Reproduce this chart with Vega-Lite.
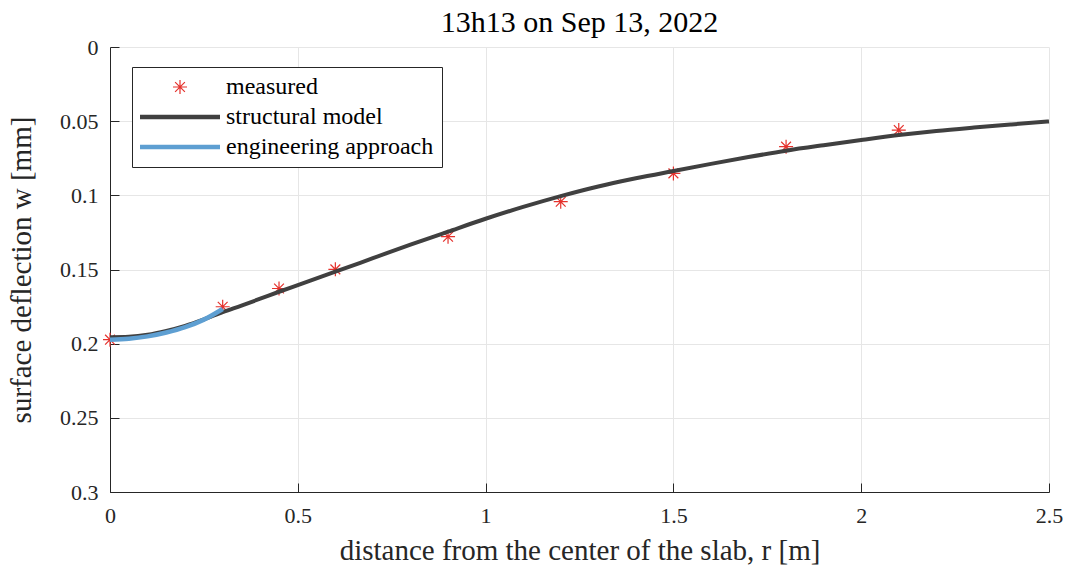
{
  "$schema": "https://vega.github.io/schema/vega-lite/v6.json",
  "width": 939,
  "height": 445,
  "autosize": {"type": "none"},
  "padding": {"left": 110, "top": 47, "right": 20, "bottom": 77},
  "background": "white",
  "title": {
    "text": "13h13 on Sep 13, 2022",
    "anchor": "middle",
    "offset": -2
  },
  "datasets": {
    "measured": [
      {"series": "measured", "r": 0.0, "w": 0.1973},
      {"series": "measured", "r": 0.3, "w": 0.1751},
      {"series": "measured", "r": 0.45, "w": 0.1628},
      {"series": "measured", "r": 0.6, "w": 0.1499},
      {"series": "measured", "r": 0.9, "w": 0.1279},
      {"series": "measured", "r": 1.2, "w": 0.1043},
      {"series": "measured", "r": 1.5, "w": 0.0852},
      {"series": "measured", "r": 1.8, "w": 0.0672},
      {"series": "measured", "r": 2.1, "w": 0.056}
    ],
    "structural": [
      {"series": "structural model", "r": 0.0, "w": 0.1956},
      {"series": "structural model", "r": 0.05, "w": 0.1953},
      {"series": "structural model", "r": 0.1, "w": 0.194},
      {"series": "structural model", "r": 0.15, "w": 0.1914},
      {"series": "structural model", "r": 0.2, "w": 0.188},
      {"series": "structural model", "r": 0.25, "w": 0.1836},
      {"series": "structural model", "r": 0.3, "w": 0.1787},
      {"series": "structural model", "r": 0.35, "w": 0.1743},
      {"series": "structural model", "r": 0.4, "w": 0.1697},
      {"series": "structural model", "r": 0.45, "w": 0.165},
      {"series": "structural model", "r": 0.5, "w": 0.1605},
      {"series": "structural model", "r": 0.6, "w": 0.1515},
      {"series": "structural model", "r": 0.7, "w": 0.1424},
      {"series": "structural model", "r": 0.8, "w": 0.1333},
      {"series": "structural model", "r": 0.9, "w": 0.1245},
      {"series": "structural model", "r": 1.0, "w": 0.1158},
      {"series": "structural model", "r": 1.1, "w": 0.1078},
      {"series": "structural model", "r": 1.2, "w": 0.1005},
      {"series": "structural model", "r": 1.3, "w": 0.094},
      {"series": "structural model", "r": 1.4, "w": 0.0885},
      {"series": "structural model", "r": 1.5, "w": 0.0836},
      {"series": "structural model", "r": 1.6, "w": 0.0788},
      {"series": "structural model", "r": 1.7, "w": 0.0742},
      {"series": "structural model", "r": 1.8, "w": 0.0699},
      {"series": "structural model", "r": 1.9, "w": 0.0662},
      {"series": "structural model", "r": 2.0, "w": 0.0627},
      {"series": "structural model", "r": 2.1, "w": 0.0594},
      {"series": "structural model", "r": 2.2, "w": 0.0566},
      {"series": "structural model", "r": 2.3, "w": 0.0543},
      {"series": "structural model", "r": 2.4, "w": 0.0522},
      {"series": "structural model", "r": 2.5, "w": 0.0502}
    ],
    "engineering": [
      {"series": "engineering approach", "r": 0.0, "w": 0.1974},
      {"series": "engineering approach", "r": 0.05, "w": 0.1967},
      {"series": "engineering approach", "r": 0.1, "w": 0.1951},
      {"series": "engineering approach", "r": 0.15, "w": 0.1925},
      {"series": "engineering approach", "r": 0.2, "w": 0.1889},
      {"series": "engineering approach", "r": 0.25, "w": 0.1838},
      {"series": "engineering approach", "r": 0.3, "w": 0.1766}
    ]
  },
  "config": {
    "font": "Liberation Serif",
    "view": {"stroke": null},
    "title": {
      "font": "Liberation Serif",
      "fontSize": 30,
      "fontWeight": "normal",
      "color": "#000000"
    },
    "axis": {
      "labelFont": "Liberation Serif",
      "labelFontSize": 22,
      "labelColor": "#262626",
      "labelFlush": false,
      "titleFont": "Liberation Serif",
      "titleFontSize": 29,
      "titleFontWeight": "normal",
      "titleColor": "#262626",
      "domainColor": "#262626",
      "domainWidth": 1,
      "tickColor": "#262626",
      "tickSize": -9,
      "tickWidth": 1,
      "gridColor": "#e6e6e6",
      "gridWidth": 1
    },
    "legend": {
      "labelFont": "Liberation Serif"
    }
  },
  "encoding": {
    "x": {
      "field": "r",
      "type": "quantitative",
      "scale": {"domain": [0, 2.5], "nice": false, "zero": false},
      "axis": {
        "title": "distance from the center of the slab, r [m]",
        "values": [0, 0.5, 1, 1.5, 2, 2.5],
        "format": "~g",
        "labelPadding": 22,
        "titleY": 44
      }
    },
    "y": {
      "field": "w",
      "type": "quantitative",
      "scale": {"domain": [0, 0.3], "nice": false, "reverse": true},
      "axis": {
        "title": "surface deflection w [mm]",
        "values": [0, 0.05, 0.1, 0.15, 0.2, 0.25, 0.3],
        "format": "~g",
        "labelPadding": 21,
        "titleX": -74
      }
    },
    "color": {
      "field": "series",
      "type": "nominal",
      "scale": {
        "domain": ["measured", "structural model", "engineering approach"],
        "range": ["#e5322d", "#404040", "#5e9fd2"]
      },
      "legend": {
        "title": null,
        "orient": "none",
        "legendX": 22,
        "legendY": 20,
        "direction": "vertical",
        "labelFont": "Liberation Serif",
        "labelFontSize": 24,
        "labelColor": "#000000",
        "labelLimit": 0,
        "labelOffset": 6,
        "symbolSize": 6400,
        "symbolStrokeWidth": 1,
        "rowPadding": 6,
        "padding": 8,
        "strokeColor": "#262626",
        "fillColor": "#ffffff",
        "cornerRadius": 0,
        "encode": {
          "symbols": {
            "update": {
              "x": {"value": 40},
              "shape": {"signal": "datum.value === 'measured' ? 'M-1,0L1,0M0,-1L0,1M-0.7,-0.7L0.7,0.7M-0.7,0.7L0.7,-0.7' : 'stroke'"},
              "size": {"signal": "datum.value === 'measured' ? 196 : 6400"},
              "strokeWidth": {"signal": "datum.value === 'measured' ? 1.2 : 4.5"},
              "fill": {"value": "transparent"},
              "stroke": {"signal": "datum.value === 'measured' ? '#e5322d' : (datum.value === 'structural model' ? '#404040' : '#5e9fd2')"},
              "opacity": {"value": 1}
            }
          },
          "labels": {
            "update": {
              "x": {"value": 86},
              "font": {"value": "Liberation Serif"},
              "fontSize": {"value": 24}
            }
          }
        }
      }
    }
  },
  "layer": [
    {
      "data": {"name": "measured"},
      "mark": {
        "type": "point",
        "shape": "M-1,0L1,0M0,-1L0,1M-0.7,-0.7L0.7,0.7M-0.7,0.7L0.7,-0.7",
        "filled": false,
        "size": 196,
        "strokeWidth": 1.2,
        "opacity": 1
      }
    },
    {
      "data": {"name": "structural"},
      "mark": {"type": "line", "strokeWidth": 4, "interpolate": "monotone"}
    },
    {
      "data": {"name": "engineering"},
      "mark": {"type": "line", "strokeWidth": 4.5, "interpolate": "monotone"}
    }
  ]
}
